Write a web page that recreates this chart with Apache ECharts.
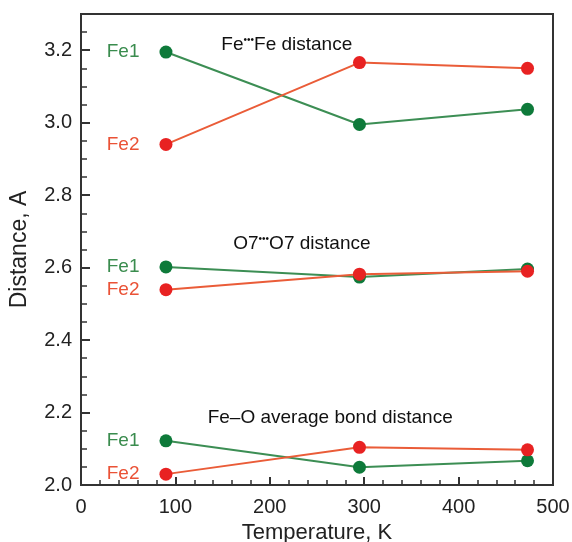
<!DOCTYPE html>
<html>
<head>
<meta charset="utf-8">
<script src="https://cdn.jsdelivr.net/npm/echarts@6/dist/echarts.min.js"></script>
<style>
  html, body { margin: 0; padding: 0; background: #fff; }
  #chart { width: 572px; height: 542px; }
</style>
</head>
<body>
<div id="chart"></div>
<script>
// temperatures (K)
const temps = [90, 295, 473];
// Fe...Fe distance
const feFeFe1 = [3.195, 2.995, 3.037];
const feFeFe2 = [2.940, 3.166, 3.150];
// O7...O7 distance
const o7Fe1 = [2.602, 2.574, 2.596];
const o7Fe2 = [2.539, 2.582, 2.590];
// Fe-O average bond distance
const feOFe1 = [2.122, 2.049, 2.067];
const feOFe2 = [2.030, 2.104, 2.097];
// group captions, [x, y] in data coords
const captions = [
  { text: 'Fe{d|•••}Fe distance', at: [218, 3.216] },
  { text: 'O7{d|•••}O7 distance', at: [234, 2.665] },
  { text: 'Fe–O average bond distance', at: [264, 2.186] }
];

const GREEN = '#0e7a3a';
const GREEN_LINE = '#3c8e54';
const RED = '#e82222';
const RED_LINE = '#ea5c38';
const font = 'Liberation Sans, Arial, sans-serif';

function mk(name, ys, isFe1) {
  return {
    name: name,
    type: 'line',
    data: temps.map((t, i) => i === 0 ? {
      value: [t, ys[i]],
      label: {
        show: true,
        position: 'left',
        distance: 20,
        formatter: isFe1 ? 'Fe1' : 'Fe2',
        color: isFe1 ? '#3a8c4e' : '#ea5236',
        fontSize: 19,
        fontFamily: font
      }
    } : { value: [t, ys[i]] }),
    symbol: 'circle',
    symbolSize: 13,
    itemStyle: { color: isFe1 ? GREEN : RED },
    lineStyle: { color: isFe1 ? GREEN_LINE : RED_LINE, width: 2 },
    z: isFe1 ? 2 : 3,
    animation: false
  };
}

let myCharts = echarts.init(document.getElementById('chart'));
let option = {
  backgroundColor: '#fff',
  grid: {
    left: 81, right: 19, top: 14, bottom: 57,
    outerBoundsMode: 'none',
    containLabel: false,
    show: true, borderColor: '#333', borderWidth: 2, backgroundColor: 'transparent'
  },
  xAxis: {
    type: 'value',
    min: 0, max: 500, interval: 100,
    name: 'Temperature, K',
    nameLocation: 'middle',
    nameGap: 34,
    nameTextStyle: { fontSize: 22, color: '#222', fontFamily: font },
    axisLine: { show: true, lineStyle: { color: '#333', width: 2 } },
    axisTick: { show: true, inside: true, length: 8, lineStyle: { color: '#333', width: 2 } },
    minorTick: { show: true, splitNumber: 5, length: 5, lineStyle: { color: '#333', width: 1.5 } },
    axisLabel: { fontSize: 20, color: '#222', fontFamily: font, margin: 12 },
    splitLine: { show: false }
  },
  yAxis: {
    type: 'value',
    min: 2.0, max: 3.3, interval: 0.2,
    name: 'Distance, A',
    nameLocation: 'middle',
    nameGap: 50,
    nameTextStyle: { fontSize: 23, color: '#222', fontFamily: font },
    axisLine: { show: true, lineStyle: { color: '#333', width: 2 } },
    axisTick: { show: true, inside: true, length: 9, lineStyle: { color: '#333', width: 2 } },
    minorTick: { show: true, splitNumber: 4, length: 6, lineStyle: { color: '#333', width: 1.5 } },
    axisLabel: {
      fontSize: 20, color: '#222', fontFamily: font, margin: 9,
      showMaxLabel: false,
      formatter: v => v.toFixed(1)
    },
    splitLine: { show: false }
  },
  series: [
    mk('FeFe Fe1', feFeFe1, true),
    mk('FeFe Fe2', feFeFe2, false),
    mk('O7 Fe1', o7Fe1, true),
    mk('O7 Fe2', o7Fe2, false),
    mk('FeO Fe1', feOFe1, true),
    mk('FeO Fe2', feOFe2, false)
  ]
};
myCharts.setOption(option);

// captions placed through the axes
myCharts.setOption({
  graphic: captions.map(c => {
    let p = myCharts.convertToPixel({ gridIndex: 0 }, c.at);
    return {
      type: 'text',
      x: p[0], y: p[1],
      style: {
        text: c.text,
        fontSize: 19,
        fill: '#111',
        fontFamily: font,
        align: 'center',
        verticalAlign: 'middle',
        rich: { d: { fontSize: 10, fill: '#111', fontFamily: font, padding: [0, 0, 9, 0] } }
      }
    };
  })
});
window.addEventListener('resize', () => { myCharts.resize() });
</script>
</body>
</html>
